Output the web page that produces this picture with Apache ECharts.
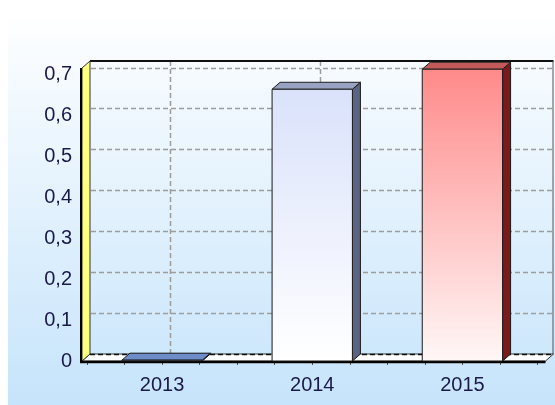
<!DOCTYPE html>
<html>
<head>
<meta charset="utf-8">
<script src="https://cdn.jsdelivr.net/npm/echarts@6/dist/echarts.min.js"></script>
<style>
  html, body { margin: 0; padding: 0; background: #ffffff; }
  #chart { width: 555px; height: 405px; }
</style>
</head>
<body>
<div id="chart"></div>
<script>
// Yearly values shown as pseudo-3D bars
const categories = ['2013', '2014', '2015'];
const values = [0.002, 0.664, 0.713];
const yMin = 0;
const yMax = 0.716;
const yStep = 0.1;

// bar colours: [front top, front bottom, side, top]
const barColors = [
  ['#8aa4d8', '#dfe8fa', '#4a5a88', '#6e8cc8'],
  ['#dae2fb', '#ffffff', '#5b6482', '#98a2c2'],
  ['#ff8a8a', '#fff7f7', '#7a1a1a', '#c25a5a']
];

// depth of the 3D box, in pixels
const DX = 8, DY = 7;

const chart = echarts.init(document.getElementById('chart'), null, { renderer: 'canvas' });

function fmt(v) {
  const r = Math.round(v / yStep);
  if (Math.abs(v - r * yStep) > 1e-6) return '';
  return r === 0 ? '0' : (r * yStep).toFixed(1).replace('.', ',');
}

// walls, floor and back grid
function renderFrame(params, api) {
  const p0 = api.coord([0, yMin]);
  const p1 = api.coord([categories.length, yMax]);
  const xl = p0[0] - 5, xr = p1[0] + 8, y0 = p0[1], yt = p1[1];
  const children = [];
  const dash = { stroke: '#9c9c9c', lineWidth: 1.5, lineDash: [5, 3] };
  // horizontal grid on the back wall
  for (let v = yStep; v <= yMax + 1e-9; v += yStep) {
    const y = Math.round(api.coord([0, v])[1] - DY) + 0.5;
    children.push({ type: 'line', shape: { x1: xl + DX + 1, y1: y, x2: xr + DX - 1, y2: y }, style: dash });
  }
  // vertical grid at category centres
  for (let i = 0; i < categories.length; i++) {
    const x = Math.round(api.coord([i + 0.5, 0])[0] + DX) + 0.5;
    children.push({ type: 'line', shape: { x1: x, y1: yt - DY, x2: x, y2: y0 - DY }, style: dash });
  }
  // back wall outline
  children.push({ type: 'line', shape: { x1: xl + DX, y1: yt - DY, x2: xr + DX, y2: yt - DY }, style: { stroke: '#111', lineWidth: 2 } });
  children.push({ type: 'line', shape: { x1: xr + DX - 0.5, y1: yt - DY, x2: xr + DX - 0.5, y2: y0 - DY }, style: { stroke: '#555', lineWidth: 1 } });
  // floor
  children.push({
    type: 'polygon',
    shape: { points: [[xl, y0], [xl + DX, y0 - DY], [xr + DX, y0 - DY], [xr, y0]] },
    style: { fill: '#ffffff', stroke: '#333', lineWidth: 1 }
  });
  children.push({ type: 'line', shape: { x1: xl + DX, y1: y0 - DY + 0.5, x2: xr + DX, y2: y0 - DY + 0.5 }, style: { stroke: '#111', lineWidth: 1.5, lineDash: [5, 3] } });
  // left wall
  children.push({
    type: 'polygon',
    shape: { points: [[xl, yt], [xl + DX, yt - DY], [xl + DX, y0 - DY], [xl, y0]] },
    style: { fill: '#ffff80', stroke: '#333', lineWidth: 1 }
  });
  // front axis lines
  children.push({ type: 'line', shape: { x1: xl - 1, y1: yt, x2: xl - 1, y2: y0 + 2 }, style: { stroke: '#000', lineWidth: 2 } });
  children.push({ type: 'line', shape: { x1: xl - 2, y1: y0 + 1, x2: xr, y2: y0 + 1 }, style: { stroke: '#000', lineWidth: 2.5 } });
  return { type: 'group', children: children };
}

// one 3D bar per category
function renderBar(params, api) {
  const i = api.value(0);
  const v = api.value(1);
  const top = api.coord([i, v]);
  const base = api.coord([i, 0]);
  const w = api.size([1, 0])[0] * 0.535;
  const x1 = top[0] - w / 2, x2 = top[0] + w / 2;
  const yt = top[1], yb = base[1];
  const c = barColors[i];
  const edge = '#1a1a1a';
  return {
    type: 'group',
    children: [
      {
        type: 'polygon',
        shape: { points: [[x2, yt], [x2 + DX, yt - DY], [x2 + DX, yb - DY], [x2, yb]] },
        style: { fill: c[2], stroke: edge, lineWidth: 1 }
      },
      {
        type: 'polygon',
        shape: { points: [[x1, yt], [x1 + DX, yt - DY], [x2 + DX, yt - DY], [x2, yt]] },
        style: { fill: c[3], stroke: edge, lineWidth: 1 }
      },
      {
        type: 'rect',
        shape: { x: x1, y: yt, width: x2 - x1, height: Math.max(yb - yt, 0) },
        style: {
          fill: new echarts.graphic.LinearGradient(0, 0, 0, 1, [
            { offset: 0, color: c[0] }, { offset: 1, color: c[1] }
          ]),
          stroke: edge, lineWidth: 1
        }
      }
    ]
  };
}

const labelStyle = { color: '#1a1a48', fontFamily: 'Liberation Sans, Arial, sans-serif', fontSize: 20 };

chart.setOption({
  animation: false,
  backgroundColor: 'transparent',
  graphic: [{
    type: 'rect', left: 8, top: 20, z: -10,
    shape: { width: 547, height: 385 },
    style: {
      fill: new echarts.graphic.LinearGradient(0, 0, 0, 1, [
        { offset: 0, color: '#fdfeff' }, { offset: 1, color: '#c6e4fb' }
      ])
    }
  }],
  grid: { left: 87, right: 17.5, top: 68, bottom: 44 },
  xAxis: [
    {
      type: 'category', data: categories,
      axisLine: { show: false }, axisTick: { show: false },
      axisLabel: Object.assign({ margin: 14 }, labelStyle)
    },
    {
      type: 'value', min: 0, max: categories.length, interval: 0.25,
      position: 'bottom',
      axisLine: { show: false }, axisLabel: { show: false }, splitLine: { show: false },
      axisTick: { show: true, length: 4, lineStyle: { color: '#555', width: 1 } }
    }
  ],
  yAxis: {
    type: 'value', min: yMin, max: yMax, interval: yStep, offset: 6,
    axisLine: { show: false },
    axisTick: { show: true, length: 4, lineStyle: { color: '#555' } },
    minorTick: { show: true, splitNumber: 4, length: 2, lineStyle: { color: '#888' } },
    splitLine: { show: false },
    axisLabel: Object.assign({ margin: 9, formatter: fmt, showMaxLabel: false }, labelStyle)
  },
  series: [
    {
      type: 'custom', xAxisIndex: 1, yAxisIndex: 0, z: 1,
      renderItem: renderFrame, data: [[0, 0]], silent: true
    },
    {
      type: 'custom', xAxisIndex: 0, yAxisIndex: 0, z: 3,
      renderItem: renderBar,
      data: values.map((v, i) => [i, v])
    }
  ]
});
</script>
</body>
</html>
